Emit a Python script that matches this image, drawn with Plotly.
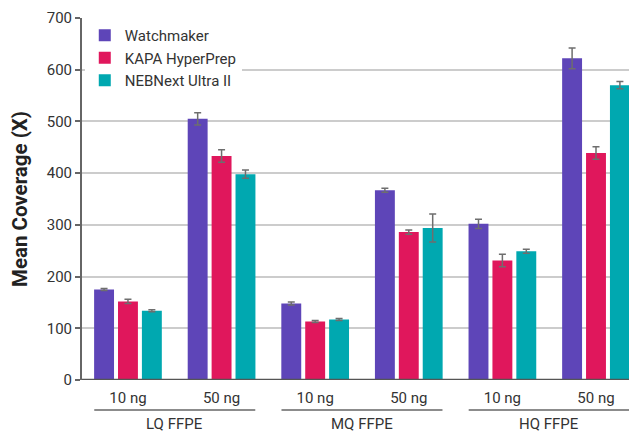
import plotly.graph_objects as go

groups = ["LQ FFPE", "MQ FFPE", "HQ FFPE"]
inputs = ["10 ng", "50 ng"]
series = ["Watchmaker", "KAPA HyperPrep", "NEBNext Ultra II"]
colors = ["#5E45B8", "#E0175C", "#00A8B0"]

watchmaker = [175, 505, 148, 367, 302, 622]
watchmaker_err = [2, 12, 3, 4, 9, 20]
kapa = [152, 433, 113, 286, 231, 439]
kapa_err = [4, 12, 2, 4, 12, 12]
nebnext = [134, 398, 117, 294, 249, 570]
nebnext_err = [2, 8, 2, 27, 4, 7]

values = [watchmaker, kapa, nebnext]
errors = [watchmaker_err, kapa_err, nebnext_err]

n = len(groups) * len(inputs)
xpos = list(range(n))
ticktext = [inputs[i % len(inputs)] for i in range(n)]

fig = go.Figure()
for name, col, vals, errs in zip(series, colors, values, errors):
    fig.add_trace(go.Bar(
        x=xpos, y=vals, name=name, marker=dict(color=col, line=dict(width=0)),
        error_y=dict(type="data", array=errs, visible=True, color="#6E6E6E",
                     thickness=1.5, width=3.5),
    ))

font = "Roboto, 'Noto Sans', sans-serif"

for g, label in enumerate(groups):
    x0 = 2 * g - 0.36
    x1 = 2 * g + 1.36
    fig.add_shape(type="line", xref="x", yref="paper", x0=x0, x1=x1,
                  y0=-0.083, y1=-0.083, line=dict(color="#666666", width=1.5))
    fig.add_annotation(x=2 * g + 0.5, y=-0.1215, xref="x", yref="paper",
                       text=label, showarrow=False, yanchor="middle",
                       font=dict(family=font, size=15, color="#333333"))

fig.update_layout(
    width=629, height=424,
    margin=dict(l=74, r=0, t=10, b=52),
    plot_bgcolor="white", paper_bgcolor="white",
    barmode="group", bargap=0.234, bargroupgap=0.167,
    font=dict(family=font, size=15, color="#333333"),
    showlegend=True,
    legend=dict(x=0.005, y=0.997, xanchor="left", yanchor="top",
                bgcolor="white", font=dict(family=font, size=15, color="#333333"),
                itemwidth=30, tracegroupgap=0, traceorder="normal"),
    xaxis=dict(range=[-0.491, 5.438], tickmode="array", tickvals=xpos,
               ticktext=ticktext, ticks="", showgrid=False, zeroline=False,
               showline=False, ticklabelstandoff=7, automargin=False,
               tickfont=dict(family=font, size=15, color="#333333")),
    yaxis=dict(range=[0, 700], tickvals=[0, 100, 200, 300, 400, 500, 600, 700],
               showgrid=True, gridcolor="#CCCCCC", gridwidth=1.5, automargin=False,
               zeroline=False, showline=True, linecolor="#666666", linewidth=2,
               ticks="outside", ticklen=5, tickcolor="#666666", tickwidth=1.5,
               tickfont=dict(family=font, size=15, color="#333333"),
               title=dict(text="<b>Mean Coverage (X)</b>", standoff=25,
                          font=dict(family=font, size=20.5, color="#222222"))),
)

# x-axis baseline
fig.add_shape(type="line", xref="paper", yref="y", x0=0, x1=1, y0=0, y1=0,
              line=dict(color="#555555", width=2.5))

fig.write_html("out.html")
